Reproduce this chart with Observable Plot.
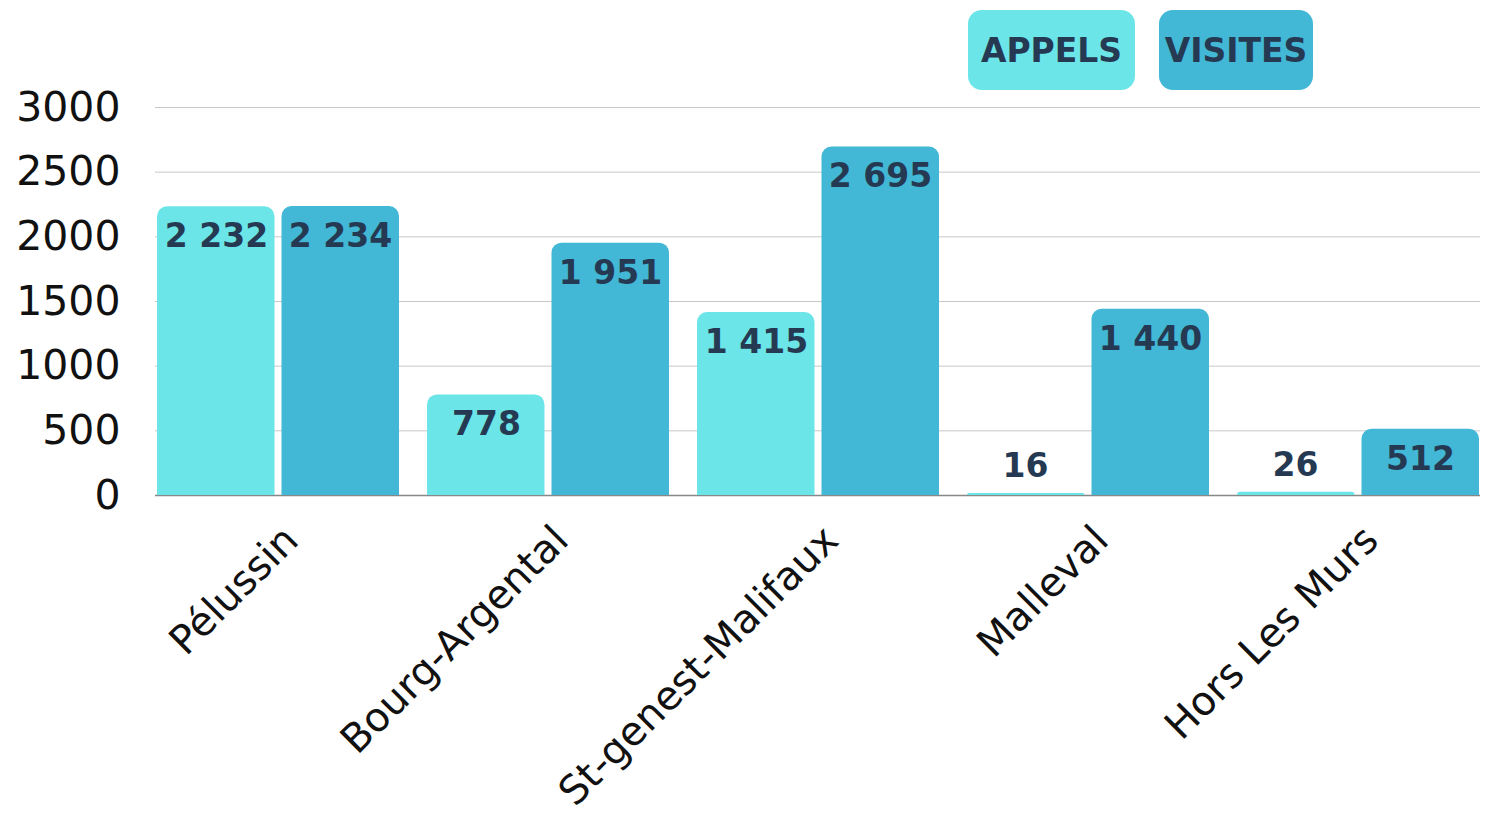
<!DOCTYPE html>
<html>
<head>
<meta charset="utf-8">
<script src="https://cdn.jsdelivr.net/npm/d3@7"></script>
<script src="https://cdn.jsdelivr.net/npm/@observablehq/plot@0.6"></script>
<style>
  html, body { margin: 0; padding: 0; background: #fff; }
  #wrap { position: relative; width: 1489px; height: 819px; }
  .leg { position: absolute; top: 10px; height: 80px; border-radius: 14px;
         display: flex; align-items: center; justify-content: center;
         font-family: "DejaVu Sans", sans-serif; font-weight: bold; font-size: 33px;
         letter-spacing: 0px; color: #253A52; }
</style>
</head>
<body>
<div id="wrap">
  <div id="chart"></div>
  <div id="legend"></div>
</div>
<script>
const communes = ["Pélussin", "Bourg-Argental", "St-genest-Malifaux", "Malleval", "Hors Les Murs"];
const appels = [2232, 778, 1415, 16, 26];
const visites = [2234, 1951, 2695, 1440, 512];
const seriesNames = ["APPELS", "VISITES"];
const seriesColors = ["#6BE5E8", "#42B7D6"];
const yTicks = [0, 500, 1000, 1500, 2000, 2500, 3000];

const rows = [];
communes.forEach((c, i) => {
  rows.push({commune: c, serie: "APPELS", value: appels[i]});
  rows.push({commune: c, serie: "VISITES", value: visites[i]});
});
const fr = d3.formatLocale({decimal: ",", thousands: "\u00a0", grouping: [3], currency: ["", " €"]});
const fmt = fr.format(",d");
const A = rows.filter(d => d.serie === "APPELS");
const V = rows.filter(d => d.serie === "VISITES");
const big = d => d.value >= 100;
const small = d => d.value < 100;
const labelStyle = {fill: "#253A52", fontSize: 33, fontWeight: "bold", lineAnchor: "top", text: d => fmt(d.value)};
const corner = {ry1: 10};

const chart = Plot.plot({
  width: 1489,
  height: 819,
  marginLeft: 155,
  marginRight: 9,
  marginTop: 107,
  marginBottom: 324,
  style: {fontFamily: "DejaVu Sans, sans-serif", fontSize: "40px", color: "#111", background: "transparent"},
  x: {domain: communes, paddingInner: 0.104, paddingOuter: 0, axis: null},
  y: {domain: [0, 3000], axis: null},
  color: {domain: seriesNames, range: seriesColors},
  marks: [
    Plot.gridY(yTicks, {stroke: "#c8c8c8", strokeOpacity: 1, strokeWidth: 1}),
    Plot.axisY(yTicks, {tickSize: 0, tickPadding: 35, fontSize: 41, fill: "#111", label: null, tickFormat: d => String(d)}),
    Plot.ruleY([0], {stroke: "#888", strokeWidth: 1.5}),
    Plot.barY(A, {x: "commune", y: "value", fill: "serie", insetRight: 124.5, ...corner}),
    Plot.barY(V, {x: "commune", y: "value", fill: "serie", insetLeft: 124.5, ...corner}),
    Plot.text(A.filter(big), {x: "commune", y: "value", dx: -62, dy: 17, ...labelStyle}),
    Plot.text(V.filter(big), {x: "commune", y: "value", dx: 62, dy: 17, ...labelStyle}),
    Plot.text(A.filter(small), {x: "commune", y: "value", dx: -63, dy: -40, ...labelStyle}),
    Plot.text(V.filter(small), {x: "commune", y: "value", dx: 62, dy: -40, ...labelStyle}),
    Plot.text(communes, {x: d => d, text: d => d, frameAnchor: "bottom", rotate: -45, textAnchor: "end", dx: 22, dy: 47, fontSize: 40, fill: "#111"})
  ]
});
document.getElementById("chart").appendChild(chart);

const legendPos = [{left: 968, width: 167}, {left: 1159, width: 154}];
const legend = document.getElementById("legend");
seriesNames.forEach((s, i) => {
  const el = document.createElement("div");
  el.className = "leg";
  el.style.left = legendPos[i].left + "px";
  el.style.width = legendPos[i].width + "px";
  el.style.background = seriesColors[i];
  el.textContent = s;
  legend.appendChild(el);
});
</script>
</body>
</html>
